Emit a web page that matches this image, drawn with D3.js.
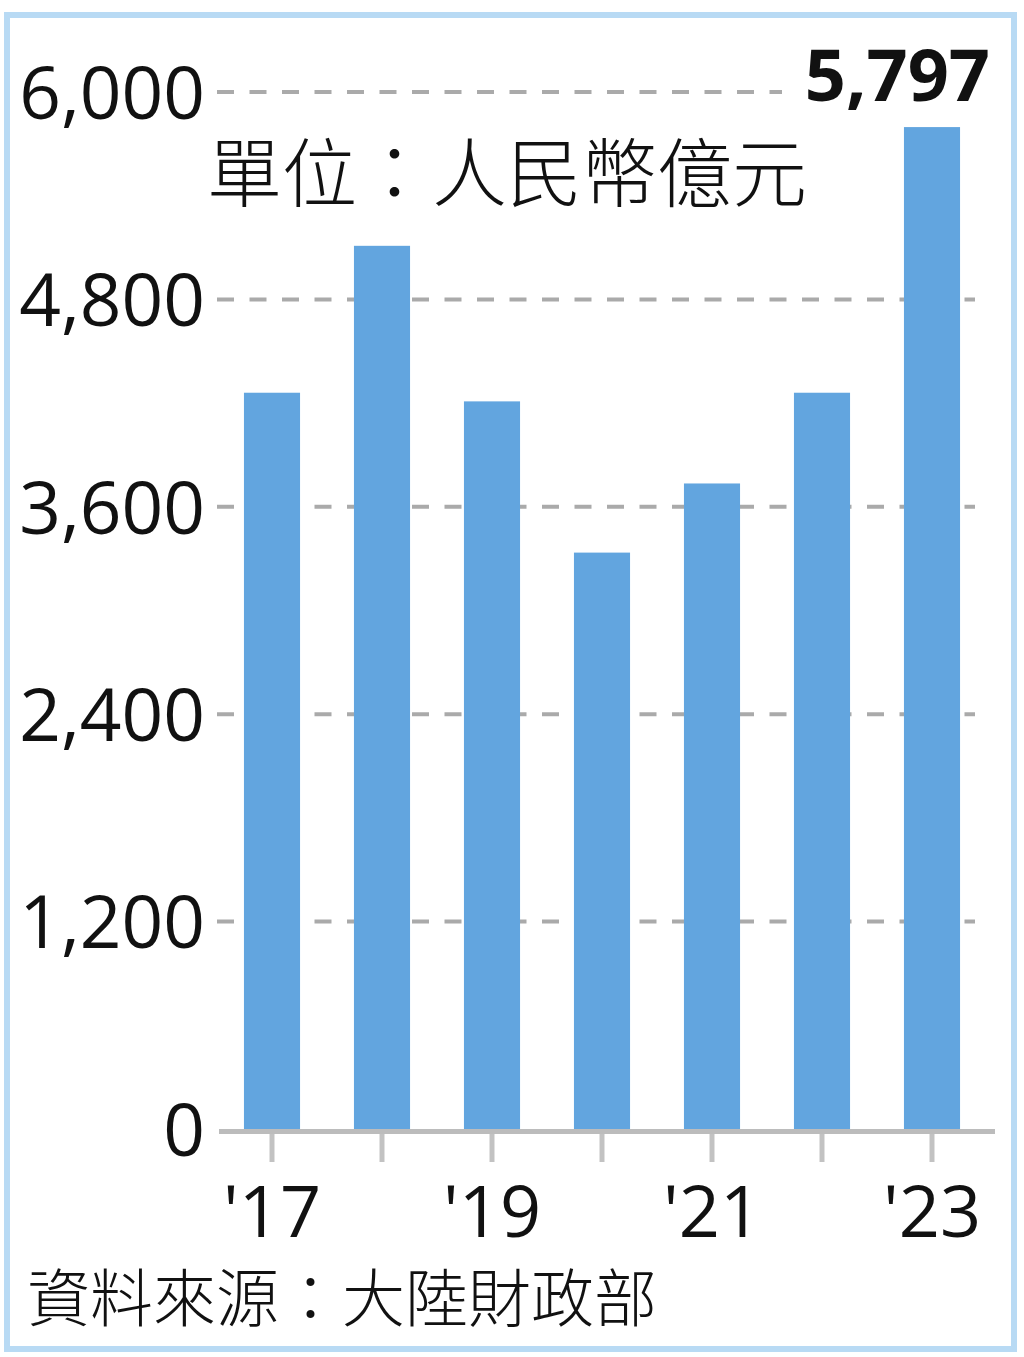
<!DOCTYPE html>
<html>
<head>
<meta charset="utf-8">
<script src="https://cdn.jsdelivr.net/npm/d3@7"></script>
<style>
  html, body { margin: 0; padding: 0; background: #fff; }
  svg { display: block; }
</style>
</head>
<body>
<svg id="chart" width="1024" height="1357"></svg>
<script>
// ---- data ----
const years = ["2017", "2018", "2019", "2020", "2021", "2022", "2023"];
const values = [4260, 5110, 4210, 3335, 3735, 4260, 5797];
const yTicks = [0, 1200, 2400, 3600, 4800, 6000];
const xTickLabels = { "2017": "'17", "2019": "'19", "2021": "'21", "2023": "'23" };
const unitLabel = "單位：人民幣億元";
const sourceLabel = "資料來源：大陸財政部";
const highlightLabel = "5,797";

// ---- layout ----
const plotLeft = 217, plotRight = 987, plotTop = 92, plotBottom = 1129;
const numFont = "'Open Sans', 'Liberation Sans', sans-serif";
const cjkFont = "'Noto Sans CJK TC', 'Noto Sans CJK SC', sans-serif";

const svg = d3.select("#chart");

// border
svg.append("rect")
  .attr("x", 7).attr("y", 15).attr("width", 1007).attr("height", 1334)
  .attr("fill", "#fff").attr("stroke", "#b8daf4").attr("stroke-width", 6);

const x = d3.scaleBand().domain(years).range([plotLeft, plotRight])
  .paddingInner(0.49).paddingOuter(0.245);
const y = d3.scaleLinear().domain([0, 6000]).range([plotBottom, plotTop]);

// gridlines
svg.append("g").selectAll("line")
  .data(yTicks.filter(d => d > 0))
  .join("line")
  .attr("x1", plotLeft)
  .attr("x2", d => d === 6000 ? 782 : 975)
  .attr("y1", d => y(d)).attr("y2", d => y(d))
  .attr("stroke", "#aaaaaa").attr("stroke-width", 4)
  .attr("stroke-dasharray", "17 15.5");

// y axis labels
const yAxis = d3.axisLeft(y).tickValues(yTicks).tickFormat(d3.format(",")).tickSize(0).tickPadding(0);
const gy = svg.append("g").attr("transform", "translate(205,0)").call(yAxis);
gy.select(".domain").remove();
gy.selectAll("text")
  .attr("font-family", numFont).attr("font-size", 73).attr("fill", "#111")
  .attr("dy", "0.36em");

// bars
svg.append("g").selectAll("rect")
  .data(years.map((yr, i) => ({ yr, v: values[i] })))
  .join("rect")
  .attr("x", d => x(d.yr))
  .attr("width", x.bandwidth())
  .attr("y", d => y(d.v))
  .attr("height", d => y(0) - y(d.v))
  .attr("fill", "#62a5df");

// baseline
svg.append("line")
  .attr("x1", 219).attr("x2", 995)
  .attr("y1", y(0) + 2.5).attr("y2", y(0) + 2.5)
  .attr("stroke", "#bcbcbc").attr("stroke-width", 5);

// x axis
const xAxis = d3.axisBottom(x).tickSize(28).tickPadding(24)
  .tickFormat(d => xTickLabels[d] || "");
const gx = svg.append("g").attr("transform", `translate(0,${y(0) + 5})`).call(xAxis);
gx.select(".domain").remove();
gx.selectAll(".tick line").attr("stroke", "#c2c2c2").attr("stroke-width", 5);
gx.selectAll(".tick text").filter(d => !xTickLabels[d]).remove();
gx.selectAll("text")
  .attr("font-family", numFont).attr("font-size", 72).attr("fill", "#111")
  .attr("dy", "0.71em");

// highlight label
svg.append("text")
  .attr("x", 990).attr("y", 101)
  .attr("text-anchor", "end")
  .attr("font-family", numFont).attr("font-weight", 700).attr("font-size", 72)
  .attr("fill", "#111")
  .text(highlightLabel);

// unit label
svg.append("text")
  .attr("x", 207).attr("y", 201)
  .attr("font-family", cjkFont).attr("font-weight", 300).attr("font-size", 75).attr("fill", "#111")
  .text(unitLabel);

// source label
svg.append("text")
  .attr("x", 27).attr("y", 1321)
  .attr("font-family", cjkFont).attr("font-weight", 300).attr("font-size", 63).attr("fill", "#111")
  .text(sourceLabel);
</script>
</body>
</html>
